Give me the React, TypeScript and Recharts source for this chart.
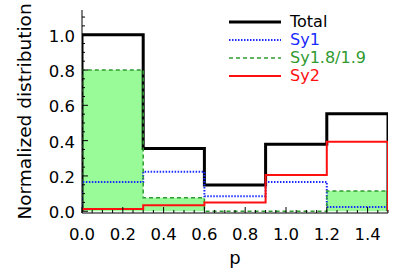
import { Area, ComposedChart, Legend, Line, XAxis, YAxis } from "recharts";

// bin edges in p, and the normalized height of each bin
const edges = [0, 0.3, 0.6, 0.9, 1.2, 1.5];
const total = [1.0, 0.356, 0.148, 0.38, 0.552];
const sy1 = [0.165, 0.223, 0.085, 0.166, 0.024];
const sy18 = [0.8, 0.076, 0, 0, 0.114];
const sy2 = [0.013, 0.034, 0.05, 0.205, 0.394];

const xMajor = [0, 0.2, 0.4, 0.6, 0.8, 1.0, 1.2, 1.4];
const yMajor = [0, 0.2, 0.4, 0.6, 0.8, 1.0];

const FONT = "DejaVu Sans, sans-serif";
const GREEN = "#2f9a2f";
const BLUE = "#1a2bff";
const RED = "#ff1010";

// step outline: drop to zero at both ends
const rows: any[] = [{ p: edges[0], total: 0, sy1: 0, sy18: 0, sy2: 0 }];
for (let i = 0; i < total.length; i++) {
  rows.push({ p: edges[i], total: total[i], sy1: sy1[i], sy18: sy18[i], sy2: sy2[i] });
}
const last = total.length - 1;
rows.push({ p: edges[last + 1], total: total[last], sy1: sy1[last], sy18: sy18[last], sy2: sy2[last] });
rows.push({ p: edges[last + 1], total: 0, sy1: 0, sy18: 0, sy2: 0 });

function minorTicks(lo: number, hi: number) {
  const out: number[] = [];
  for (let k = Math.round(lo * 20); k <= Math.round(hi * 20); k++) out.push(k / 20);
  return out;
}
const xTicks = minorTicks(0, 1.5);
const yTicks = minorTicks(0, 1.1);

const isMajor = (v: number) => Math.abs(v * 5 - Math.round(v * 5)) < 1e-6;

function makeTick(side: "bottom" | "top" | "left" | "right", labels: number[]) {
  return (props: any) => {
    const { x, y, payload } = props;
    const v = payload.value as number;
    const len = isMajor(v) ? 6 : 3;
    const showLabel = labels.some((l) => Math.abs(l - v) < 1e-6);
    if (side === "bottom" || side === "top") {
      const dir = side === "bottom" ? -1 : 1;
      return (
        <g>
          <line x1={x} y1={y} x2={x} y2={y + dir * len} stroke="#000" />
          {side === "bottom" && showLabel ? (
            <text x={x} y={y + 27} textAnchor="middle" fontSize={16.5} fontFamily={FONT} fill="#000">
              {v.toFixed(1)}
            </text>
          ) : null}
        </g>
      );
    }
    const dir = side === "left" ? 1 : -1;
    return (
      <g>
        <line x1={x} y1={y} x2={x + dir * len} y2={y} stroke="#000" />
        {side === "left" && showLabel ? (
          <text x={x - 7} y={y + 7} textAnchor="end" fontSize={16.5} fontFamily={FONT} fill="#000">
            {v.toFixed(1)}
          </text>
        ) : null}
      </g>
    );
  };
}

const legendItems = [
  { name: "Total", color: "#000", text: "#000", width: 3, dash: undefined },
  { name: "Sy1", color: BLUE, text: BLUE, width: 2, dash: "1.5 1.5" },
  { name: "Sy1.8/1.9", color: GREEN, text: GREEN, width: 1.5, dash: "4 3" },
  { name: "Sy2", color: RED, text: RED, width: 2, dash: undefined },
];

function LegendBox() {
  return (
    <div style={{ fontFamily: FONT, fontSize: 16 }}>
      {legendItems.map((it) => (
        <div key={it.name} style={{ display: "flex", alignItems: "center", height: 18 }}>
          <svg width={52} height={6} style={{ display: "block" }}>
            <line x1={0} y1={3} x2={52} y2={3} stroke={it.color} strokeWidth={it.width} strokeDasharray={it.dash} />
          </svg>
          <span style={{ color: it.text, marginLeft: 9, lineHeight: "16px", height: 16 }}>{it.name}</span>
        </div>
      ))}
    </div>
  );
}

export default function App() {
  return (
    <div style={{ position: "absolute", left: 0, top: 0, width: 409, height: 273, background: "#fff" }}>
      <ComposedChart width={409} height={273} data={rows} margin={{ top: 10, right: 21, bottom: 0, left: 0 }}>
        <XAxis
          dataKey="p"
          type="number"
          domain={[0, 1.5]}
          allowDataOverflow
          ticks={xTicks}
          interval={0}
          tickSize={0}
          tickMargin={0}
          tickLine={false}
          tick={makeTick("bottom", xMajor)}
          axisLine={{ stroke: "#000" }}
          height={60}
          label={(p: any) => {
            const vb = p.viewBox;
            return (
              <text x={vb.x + vb.width / 2} y={vb.y + 51} textAnchor="middle" fontSize={18} fontFamily={FONT} fill="#000">
                p
              </text>
            );
          }}
        />
        <XAxis
          xAxisId="top"
          orientation="top"
          type="number"
          domain={[0, 1.5]}
          allowDataOverflow
          ticks={xTicks}
          interval={0}
          tickSize={0}
          tickMargin={0}
          tickLine={false}
          tick={makeTick("top", [])}
          axisLine={{ stroke: "#000" }}
          height={0}
        />
        <YAxis
          type="number"
          domain={[-0.01, 1.14]}
          allowDataOverflow
          ticks={yTicks}
          interval={0}
          tickSize={0}
          tickMargin={0}
          tickLine={false}
          tick={makeTick("left", yMajor)}
          axisLine={{ stroke: "#000" }}
          width={82}
          label={(p: any) => {
            const vb = p.viewBox;
            const cy = vb.y + vb.height / 2;
            return (
              <text
                x={31}
                y={cy}
                transform={`rotate(-90 31 ${cy})`}
                textAnchor="middle"
                fontSize={18.5}
                fontFamily={FONT}
                fill="#000"
              >
                Normalized distribution
              </text>
            );
          }}
        />
        <YAxis
          yAxisId="right"
          orientation="right"
          type="number"
          domain={[-0.01, 1.14]}
          allowDataOverflow
          ticks={yTicks}
          interval={0}
          tickSize={0}
          tickMargin={0}
          tickLine={false}
          tick={makeTick("right", [])}
          axisLine={{ stroke: "#000" }}
          width={0}
        />
        <Legend
          layout="vertical"
          align="center"
          verticalAlign="middle"
          wrapperStyle={{ top: 13, left: 229, width: 150 }}
          content={() => <LegendBox />}
        />
        <Area
          type="stepAfter"
          dataKey="sy18"
          stroke="none"
          fill="#98fb98"
          fillOpacity={1}
          isAnimationActive={false}
          legendType="none"
        />
        <Line type="stepAfter" dataKey="total" stroke="#000" strokeWidth={3} dot={false} isAnimationActive={false} />
        <Line
          type="stepAfter"
          dataKey="sy1"
          stroke={BLUE}
          strokeWidth={2}
          strokeDasharray="1.5 1.5"
          dot={false}
          isAnimationActive={false}
        />
        <Line
          type="stepAfter"
          dataKey="sy18"
          stroke={GREEN}
          strokeWidth={1.5}
          strokeDasharray="4 3"
          dot={false}
          isAnimationActive={false}
        />
        <Line type="stepAfter" dataKey="sy2" stroke={RED} strokeWidth={2} dot={false} isAnimationActive={false} />
      </ComposedChart>
    </div>
  );
}
